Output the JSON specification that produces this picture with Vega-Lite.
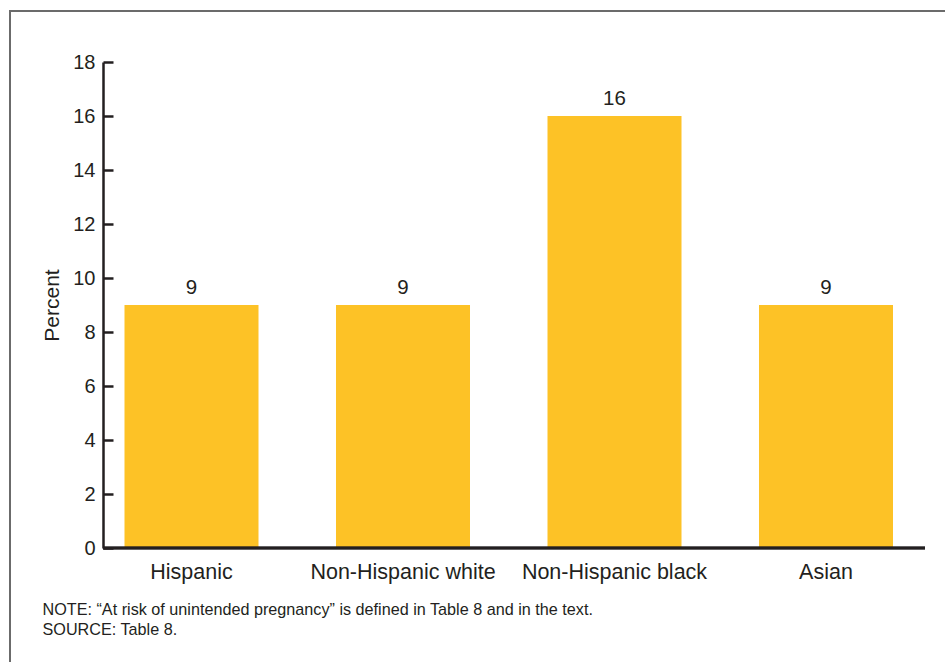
{
  "$schema": "https://vega.github.io/schema/vega-lite/v6.json",
  "autosize": {"type": "none"},
  "padding": {"left": 10, "top": 11, "right": -5, "bottom": -5},
  "width": 940,
  "height": 656,
  "background": "white",
  "config": {
    "font": "Liberation Sans",
    "view": {"stroke": "#6b6b6b", "strokeWidth": 2}
  },
  "data": {
    "values": [
      {"group": "Hispanic", "percent": 9},
      {"group": "Non-Hispanic white", "percent": 9},
      {"group": "Non-Hispanic black", "percent": 16},
      {"group": "Asian", "percent": 9}
    ]
  },
  "resolve": {"scale": {"x": "independent"}, "axis": {"x": "independent"}},
  "layer": [
    {
      "encoding": {
        "x": {
          "field": "group",
          "type": "nominal",
          "sort": null,
          "scale": {"range": [114.5, 883], "paddingInner": 0.3664, "paddingOuter": 0},
          "axis": {
            "orient": "bottom",
            "offset": -119,
            "ticks": false,
            "domain": false,
            "labelAngle": 0,
            "labelLimit": 0,
            "labelFontSize": 21.5,
            "labelColor": "#231f20",
            "labelPadding": 13,
            "title": ["NOTE: \u201cAt risk of unintended pregnancy\u201d is defined in Table 8 and in the text.", "SOURCE: Table 8."],
            "titleFontSize": 16.2,
            "titleFontWeight": "normal",
            "titleColor": "#231f20",
            "titleAlign": "left",
            "titleAnchor": "start",
            "titleBaseline": "alphabetic",
            "titleLineHeight": 20,
            "titleX": 32,
            "titleY": 66
          }
        },
        "y": {
          "field": "percent",
          "type": "quantitative",
          "scale": {"domain": [0, 18], "range": [537, 51], "nice": false, "zero": true},
          "axis": {
            "orient": "left",
            "offset": -93,
            "values": [0, 2, 4, 6, 8, 10, 12, 14, 16, 18],
            "grid": false,
            "tickSize": -10,
            "tickWidth": 2.5,
            "tickColor": "#231f20",
            "domainColor": "#231f20",
            "domainWidth": 2.5,
            "labelFontSize": 20,
            "labelColor": "#231f20",
            "labelPadding": 18,
            "title": "Percent",
            "titleFontSize": 21,
            "titleFontWeight": "normal",
            "titleColor": "#231f20",
            "titlePadding": 10
          }
        }
      },
      "layer": [
        {"mark": {"type": "bar", "color": "#fdc226"}},
        {
          "mark": {"type": "text", "baseline": "bottom", "dy": -7, "fontSize": 20.5, "color": "#231f20"},
          "encoding": {"text": {"field": "percent", "type": "quantitative"}}
        }
      ]
    },
    {
      "mark": {"type": "rule", "color": "#231f20", "strokeWidth": 2.5},
      "encoding": {
        "x": {"datum": 0, "type": "quantitative", "scale": {"domain": [0, 1], "range": [93, 915], "nice": false, "zero": false}, "axis": null},
        "x2": {"datum": 1},
        "y": {"datum": 0, "type": "quantitative"}
      }
    }
  ]
}
